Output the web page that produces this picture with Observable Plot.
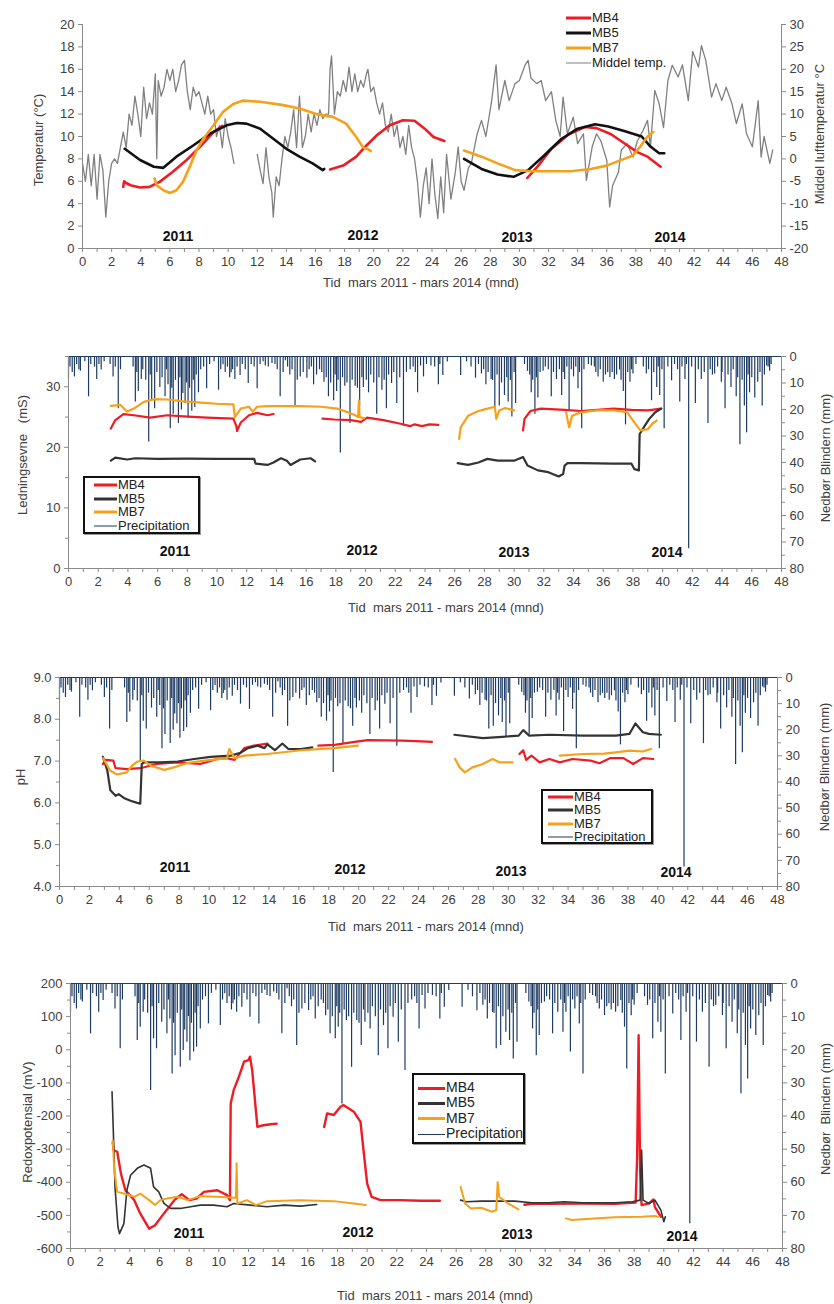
<!DOCTYPE html>
<html><head><meta charset="utf-8">
<script src="https://cdn.jsdelivr.net/npm/d3@7"></script>
<script src="https://cdn.jsdelivr.net/npm/@observablehq/plot@0.6"></script>
<style>
body{margin:0;background:#fff;font-family:"Liberation Sans",Arial,sans-serif;}
#root{position:relative;width:834px;height:1304px;overflow:hidden;background:#fff;}
.t{position:absolute;white-space:nowrap;color:#404040;font-size:13px;line-height:1;}
.yr{position:absolute;white-space:nowrap;color:#111;font-size:14px;font-weight:bold;transform:translate(-50%,-50%);}
.rot{position:absolute;white-space:nowrap;color:#404040;font-size:13px;line-height:1;transform:translate(-50%,-50%) rotate(-90deg);}
.lg{position:absolute;background:#fff;}
.lg .row{position:absolute;left:0;white-space:nowrap;font-size:13px;color:#222;line-height:1;}
.lg .sw{display:inline-block;vertical-align:middle;margin-right:1px;}
svg{overflow:visible;}
</style></head>
<body><div id="root"></div>
<script>
// ---------------- DATA ----------------
const xTicks = [0,2,4,6,8,10,12,14,16,18,20,22,24,26,28,30,32,34,36,38,40,42,44,46,48];
const xMinorTicks = [1,3,5,7,9,11,13,15,17,19,21,23,25,27,29,31,33,35,37,39,41,43,45,47];
const years = ["2011","2012","2013","2014"];
const seriesNames = ["MB4","MB5","MB7"];

// Panel 1: water temperature (°C, left axis) and mean air temperature (°C, right axis)
const tempTicks = [0,2,4,6,8,10,12,14,16,18,20];
const airTicks = [-20,-15,-10,-5,0,5,10,15,20,25,30];
const airTemp = [[0.0,-1],[0.2,-5],[0.4,1],[0.6,-6],[0.8,1],[1.0,-9],[1.2,1],[1.4,-2.5],[1.6,-13],[1.8,-5],[2.0,-1],[2.2,0],[2.4,-1],[2.6,2.5],[2.8,6],[3.0,2.5],[3.2,10],[3.4,7.5],[3.6,14],[3.8,10],[4.0,5],[4.2,16],[4.4,9],[4.6,12.5],[4.8,10],[5.0,19],[5.1,0],[5.2,17.5],[5.4,14],[5.6,16],[5.8,20],[6.0,17.5],[6.2,20],[6.4,15],[6.6,17.5],[6.8,21],[7.0,22],[7.2,15],[7.4,11],[7.6,16],[7.8,14],[8.0,15],[8.2,12.5],[8.4,10],[8.6,14],[8.8,10],[9.0,11],[9.2,5],[9.4,7.5],[9.6,2.5],[9.8,9],[10.0,5],[10.2,2.5],[10.4,-1],[11.2,null],[12.0,1],[12.2,-2.5],[12.4,-5.5],[12.6,2.5],[12.8,-4],[13.0,-7.5],[13.1,-13],[13.3,-4],[13.5,-6],[13.7,0],[13.9,5],[14.1,2.5],[14.3,6],[14.5,11],[14.7,2.5],[14.9,14],[15.1,2.5],[15.3,5],[15.5,10],[15.7,6],[15.9,10],[16.1,7.5],[16.3,11],[16.5,9],[16.7,10],[16.9,10],[17.0,20],[17.1,23],[17.3,10],[17.5,15],[17.7,14],[17.9,17.5],[18.1,15],[18.3,20.5],[18.5,15],[18.7,19],[18.9,15],[19.1,17.5],[19.3,16],[19.5,19],[19.6,20],[19.8,15],[20.0,16],[20.2,12.5],[20.4,10],[20.6,12.5],[20.8,7.5],[21.0,6],[21.2,10],[21.4,5],[21.6,7.5],[21.8,2.5],[22.0,5],[22.2,1],[22.4,7.5],[22.6,2.5],[22.8,0],[23.0,-5],[23.2,-13],[23.4,-6],[23.6,-2],[23.8,-10],[24.0,0],[24.2,-8],[24.4,-13.3],[24.6,-4],[24.8,-12],[25.0,1],[25.3,-9],[25.6,-3],[25.8,2.7],[26.0,-5],[26.2,-7],[26.5,-2],[26.7,-1],[27.1,5.6],[27.4,8.6],[27.7,5],[28.1,13],[28.4,21],[28.6,11],[29.0,17.5],[29.3,13],[29.7,16.8],[30.0,17.5],[30.4,21],[30.6,22],[30.8,18],[31.2,16.8],[31.5,17.5],[31.8,13],[32.2,15],[32.5,8.6],[32.8,5],[33.0,13.8],[33.3,5.6],[33.7,9.3],[34.0,3.4],[34.4,5.6],[34.6,-4.8],[35.0,2.7],[35.3,5.6],[35.6,4],[36.0,-0.3],[36.2,-10.7],[36.4,-6],[36.8,-3],[37.0,2],[37.4,3.4],[37.8,0.4],[38.1,4],[38.5,6.4],[38.8,8.6],[39.0,2.7],[39.3,15.3],[39.6,12.3],[39.9,7],[40.2,17.5],[40.5,20.9],[40.9,18.3],[41.2,21],[41.6,13],[41.9,24],[42.3,20.5],[42.5,25.3],[42.8,22],[43.2,13.8],[43.5,16.8],[43.9,13],[44.2,16],[44.6,12.3],[44.9,7.9],[45.3,12.3],[45.6,5.6],[46.0,2.7],[46.4,13],[46.6,0.4],[46.8,5],[47.2,-1],[47.4,2]];
const tempMB4 = [[2.8,5.5],[2.85,6.0],[3.0,5.85],[3.3,5.65],[3.95,5.45],[4.6,5.5],[5.3,5.95],[6.2,6.85],[7.15,7.9],[8.05,9.05],[9.0,10.4],[9.6,10.95],[9.7,null],[17.0,7.05],[17.9,7.4],[18.8,8.2],[19.5,9.2],[20.2,10.1],[21.1,11.0],[22.0,11.45],[22.8,11.4],[23.5,10.7],[24.1,9.95],[24.85,9.6],[25,null],[30.55,6.3],[30.65,6.45],[31.3,7.4],[32.2,8.9],[33.4,10.2],[34.5,10.85],[35.3,10.75],[36.3,10.2],[37.2,9.4],[38.1,8.6],[38.8,8.2],[39.7,7.3]];
const tempMB5 = [[2.9,8.9],[3.95,7.9],[4.9,7.3],[5.55,7.2],[6.45,8.2],[7.6,9.2],[8.75,10.25],[9.9,11.0],[10.6,11.2],[11.25,11.15],[12.2,10.7],[13.1,9.8],[14.0,8.9],[14.9,8.2],[15.8,7.6],[16.5,7.0],[16.6,7.1],[17,null],[26.2,8.0],[27.4,7.1],[28.5,6.6],[29.6,6.4],[30.6,7.0],[31.7,8.3],[32.9,9.8],[34.0,10.7],[35.2,11.1],[36.1,10.9],[37.2,10.5],[38.4,10.0],[39.0,9.1],[39.6,8.5],[39.95,8.5]];
const tempMB7 = [[4.95,6.25],[5.1,5.65],[5.55,5.2],[6.0,4.95],[6.45,5.2],[6.9,5.95],[7.4,7.4],[7.85,8.8],[8.3,9.8],[9.0,11.0],[9.65,12.2],[10.35,12.9],[11.0,13.2],[12.2,13.1],[13.8,12.8],[14.9,12.5],[16.05,12.0],[17.2,11.75],[18.1,11.15],[18.8,9.95],[19.25,9.05],[19.7,8.8],[19.8,8.7],[20,null],[26.2,8.75],[27.4,8.2],[28.5,7.6],[29.7,7.0],[30.8,6.9],[31.9,6.9],[33.5,6.9],[34.9,7.1],[36.0,7.4],[37.2,8.0],[37.8,8.3],[38.3,9.1],[38.8,10.0],[39.2,10.4]];

// Daily precipitation Blindern (mm), shared by panels 2-4
const precipTicks = [0,10,20,30,40,50,60,70,80];
const precipMinorTicks = [5,15,25,35,45,55,65,75];
const precip = [[0.0,8.7],[0.1,4],[0.25,6],[0.4,7.7],[0.55,3],[0.7,5],[0.8,5.6],[1.1,2],[1.35,15.2],[1.5,3],[1.75,4],[1.9,8.7],[2.05,3],[2.2,5.1],[2.4,2],[2.8,3],[3.0,7.7],[3.15,4],[3.35,19.7],[3.5,5],[4.35,4],[4.5,17.2],[4.6,6],[4.7,13.2],[4.9,8.7],[5.0,5],[5.2,9],[5.4,32.3],[5.5,7],[5.6,16.7],[5.8,19.7],[5.95,6],[6.15,11.7],[6.3,8],[6.5,15.2],[6.6,5],[6.7,10.7],[6.85,27.3],[6.95,12],[7.05,21.8],[7.2,9],[7.4,25.3],[7.5,8],[7.6,20.2],[7.7,14],[7.85,17.7],[7.95,10],[8.05,23.3],[8.15,12],[8.3,20.7],[8.4,9],[8.5,19.2],[8.6,7],[8.75,13.7],[8.9,5],[9.1,4],[9.3,12.2],[9.5,3],[9.8,2],[10.1,12.7],[10.25,5],[10.4,3.1],[10.55,6],[10.7,4],[10.85,8],[10.95,6.1],[11.05,5],[11.2,8.7],[11.35,4],[11.55,7.2],[11.7,3],[11.9,5],[12.1,10.2],[12.3,3],[12.5,4],[12.7,12.2],[12.9,3],[13.1,2],[13.25,3.6],[13.45,4],[13.7,2.6],[13.9,3],[14.05,5],[14.25,15.2],[14.45,6],[14.6,1.6],[14.75,4],[14.9,7],[15.05,5],[15.25,18.7],[15.4,9],[15.6,7.7],[15.8,6],[16.05,8.2],[16.2,5],[16.35,4],[16.5,10.7],[16.7,7],[16.9,5],[17.05,6],[17.2,9.7],[17.35,8],[17.5,15.2],[17.65,10],[17.85,16.7],[17.95,7],[18.05,13.2],[18.15,9],[18.3,36.4],[18.45,8],[18.6,11.2],[18.75,10],[18.95,25.3],[19.1,9],[19.3,11.2],[19.45,12],[19.6,18.7],[19.75,8],[19.85,11.7],[20.05,9],[20.2,13.7],[20.35,7],[20.55,10],[20.75,21.8],[20.9,8],[21.1,12.7],[21.25,9],[21.4,19.7],[21.55,7],[21.75,10.2],[21.9,6],[22.1,17.7],[22.3,8],[22.55,26.3],[22.75,6],[23.0,5],[23.2,4],[23.35,6],[23.5,13.7],[23.7,3.6],[23.9,7.7],[24.1,3],[24.4,3.6],[24.65,4],[24.9,10.7],[25.0,3],[25.2,7.2],[25.5,2.1],[26.4,7.2],[26.8,2],[27.1,4],[27.4,8.2],[27.6,3],[27.8,6.6],[27.95,5],[28.1,10.7],[28.25,6],[28.45,8.7],[28.55,9],[28.7,19.7],[28.85,7],[29.0,18.7],[29.15,10],[29.35,14.7],[29.5,8],[29.6,17.2],[29.75,9],[29.85,22.8],[30.0,6],[30.1,17.7],[30.7,3],[30.9,5.6],[31.05,7],[31.15,13.7],[31.25,9],[31.4,21.8],[31.5,8],[31.6,15.7],[31.75,6],[31.95,5.6],[32.1,4],[32.3,5],[32.5,15.2],[32.65,6],[32.85,8.7],[33.05,5],[33.2,14.7],[33.3,6],[33.4,8.7],[33.55,4],[33.7,20.7],[33.85,5],[34.0,7.7],[34.15,4],[34.3,12.2],[34.4,6],[34.55,27.3],[34.7,5],[35.0,3],[35.2,3.6],[35.4,4],[35.5,6],[35.65,7.7],[35.8,5],[36.0,9.7],[36.15,7],[36.3,6.1],[36.45,8],[36.6,6],[36.75,8.7],[36.9,7],[37.1,5.1],[37.2,9],[37.35,13.2],[37.5,25.8],[37.65,6],[37.8,9.7],[37.9,5],[38.0,6.6],[38.2,3],[38.7,4],[38.9,6.6],[39.05,5],[39.25,16.7],[39.4,6],[39.6,11.7],[39.7,4],[39.8,14.7],[39.95,5],[40.1,27.3],[40.35,4],[40.6,9.2],[40.8,3],[41.0,5],[41.15,17.2],[41.3,4],[41.5,8.7],[41.6,3],[41.75,72.5],[41.95,4],[42.2,17.7],[42.4,5],[42.6,8.7],[42.8,6],[43.05,25.3],[43.2,5],[43.35,7],[43.5,6.6],[43.7,4],[43.95,9.7],[44.0,6],[44.2,19.7],[44.4,7],[44.6,11.7],[44.75,5],[44.95,15.2],[45.05,8],[45.2,33.3],[45.35,9],[45.5,18.7],[45.65,28.8],[45.75,7],[45.85,13.7],[46.0,8],[46.2,15.7],[46.4,9.7],[46.55,6],[46.7,18.7],[46.85,7],[47.0,3.6],[47.1,4],[47.2,5.6],[47.3,3]];

// Panel 2: conductivity (mS)
const condTicks = [0,10,20,30];
const condMinorTicks = [5,15,25,35];
const condMB4 = [[2.85,23.1],[3.15,24.5],[3.7,25.5],[4.4,25.3],[5.5,24.9],[6.65,25.3],[7.75,25.1],[9.3,24.9],[11.1,24.75],[11.3,23.5],[11.35,22.7],[11.45,23.3],[11.6,24.1],[12.15,25.3],[12.7,25.7],[13.4,25.3],[13.8,25.5],[14,null],[17.1,24.75],[17.9,24.6],[19.0,24.5],[19.7,24.2],[20.1,24.9],[21.2,24.5],[22.35,23.9],[23.0,23.5],[23.3,23.8],[23.8,23.5],[24.3,23.8],[24.9,23.7],[25,null],[30.6,22.8],[30.7,24.7],[31.1,26.0],[31.8,26.4],[33.4,26.2],[34.5,26.0],[35.6,26.2],[36.7,26.4],[37.9,26.2],[39.0,26.1],[39.9,26.4]];
const condMB5 = [[2.85,17.8],[3.15,18.3],[3.95,18.0],[4.5,18.2],[6.0,18.1],[8.0,18.15],[10.0,18.1],[12.5,18.1],[12.6,17.3],[13.4,17.1],[13.8,17.5],[14.3,18.2],[14.7,17.8],[14.95,17.1],[15.6,18.0],[16.3,18.2],[16.6,17.7],[17,null],[26.2,17.4],[26.9,17.1],[27.6,17.5],[28.2,18.1],[28.9,17.8],[30.0,17.8],[30.6,18.4],[30.9,17.0],[31.6,16.2],[32.3,15.9],[33.0,15.2],[33.3,15.6],[33.4,17.0],[33.6,17.4],[34.5,17.4],[36.7,17.3],[37.9,17.3],[38.1,16.4],[38.4,16.2],[38.45,22.2],[38.8,23.6],[39.1,24.7],[39.5,25.8],[39.9,26.4]];
const condMB7 = [[2.85,26.85],[3.5,27.0],[3.95,25.9],[4.4,26.4],[5.07,27.5],[5.75,27.95],[6.65,27.9],[7.75,27.6],[8.9,27.4],[10.0,27.2],[11.1,27.1],[11.2,25.0],[11.6,26.4],[12.15,26.7],[12.4,25.9],[12.7,26.7],[13.4,26.8],[15.6,26.8],[17.0,26.7],[18.1,26.4],[18.75,25.85],[19.3,25.3],[19.5,25.0],[19.55,27.7],[19.6,25.0],[19.9,24.8],[20,null],[26.3,21.4],[26.4,23.3],[26.9,25.2],[27.6,26.0],[28.2,26.4],[28.7,26.7],[28.8,24.7],[29.0,26.1],[29.4,26.5],[30.0,26.1],[30.1,null],[33.5,25.8],[33.7,23.3],[33.9,25.2],[34.5,25.8],[35.6,26.1],[36.7,26.1],[37.6,25.8],[38.1,24.1],[38.5,22.8],[39.0,23.0],[39.3,23.9],[39.6,24.4]];

// Panel 3: pH
const phTicks = [4,5,6,7,8,9];
const phMinorTicks = [4.5,5.5,6.5,7.5,8.5];
const phMB4 = [[2.9,6.93],[3.1,7.03],[3.6,7.01],[3.75,6.83],[4.5,6.81],[5.4,6.83],[6.5,6.93],[7.9,6.97],[9.4,6.93],[10.55,7.05],[11.2,7.07],[11.7,7.03],[12.35,7.31],[13.0,7.37],[13.9,7.42],[14,null],[17.3,7.37],[18.4,7.39],[19.5,7.45],[20.6,7.5],[22.9,7.49],[24.2,7.47],[24.9,7.46],[25,null],[30.75,7.17],[31.0,7.26],[31.2,7.03],[31.55,7.13],[32.1,6.97],[32.75,7.05],[33.45,6.97],[34.3,7.05],[35.5,7.01],[36.1,6.95],[36.8,7.07],[37.7,7.07],[38.35,6.93],[39.0,7.07],[39.7,7.05]];
const phMB5 = [[2.9,7.1],[3.2,6.77],[3.4,6.3],[3.75,6.17],[3.96,6.21],[4.3,6.12],[4.75,6.05],[5.2,6.0],[5.4,5.98],[5.5,6.93],[5.64,6.97],[6.75,6.97],[7.9,6.99],[9.0,7.05],[10.1,7.1],[11.45,7.13],[12.1,7.2],[12.6,7.31],[13.25,7.37],[13.7,7.31],[13.9,7.4],[14.4,7.26],[14.9,7.42],[15.3,7.29],[16.15,7.29],[16.9,7.33],[17,null],[26.4,7.63],[28.3,7.55],[29.6,7.58],[30.7,7.61],[31.0,7.74],[31.4,7.61],[32.75,7.63],[35.0,7.61],[37.2,7.61],[38.1,7.65],[38.5,7.9],[39.0,7.69],[39.4,7.65],[40.2,7.63]];
const phMB7 = [[2.9,7.07],[3.4,6.77],[3.85,6.68],[4.5,6.73],[4.85,6.89],[5.2,6.99],[5.64,7.01],[6.1,6.89],[7.0,6.79],[7.65,6.85],[8.5,6.95],[9.7,7.01],[11.2,7.07],[11.35,7.29],[11.7,7.07],[12.35,7.13],[13.9,7.17],[16.15,7.26],[18.4,7.31],[19.95,7.37],[20,null],[26.45,7.05],[26.75,6.85],[27.1,6.73],[27.6,6.85],[28.3,6.93],[28.95,7.05],[29.4,6.97],[30.3,6.97],[30.4,null],[33.45,7.13],[35.0,7.17],[36.4,7.18],[37.2,7.21],[38.1,7.25],[39.0,7.23],[39.55,7.29]];

// Panel 4: redox potential (mV)
const redoxTicks = [-600,-500,-400,-300,-200,-100,0,100,200];
const redoxMinorTicks = [-550,-450,-350,-250,-150,-50,50,150];
const redoxMB4 = [[2.85,-280],[2.9,-303],[3.15,-308],[3.4,-374],[3.7,-424],[4.3,-454],[4.7,-494],[5.3,-540],[5.7,-530],[6.3,-494],[7.0,-454],[7.5,-436],[8.0,-454],[8.5,-449],[9.0,-429],[9.9,-424],[10.55,-439],[10.75,-454],[10.8,-162],[11.0,-122],[11.35,-82],[11.7,-36],[12.0,-31],[12.1,-21],[12.25,-62],[12.6,-233],[13.0,-228],[13.5,-225],[13.9,-223],[14,null],[17.1,-233],[17.3,-192],[17.75,-197],[18.2,-172],[18.4,-167],[19.1,-187],[19.55,-218],[19.8,-323],[20.0,-404],[20.3,-444],[20.9,-454],[22.25,-454],[23.6,-456],[24.9,-456],[25,null],[30.6,-468],[31.1,-465],[32.2,-465],[34.5,-464],[36.7,-465],[38.1,-461],[38.2,-323],[38.3,44],[38.4,-363],[38.5,-469],[39.0,-464],[39.3,-452],[39.4,-475],[39.8,-504]];
const redoxMB5 = [[2.8,-127],[2.9,-263],[3.0,-414],[3.2,-535],[3.3,-555],[3.6,-525],[3.8,-424],[4.05,-379],[4.5,-358],[4.95,-348],[5.4,-358],[5.6,-414],[5.95,-429],[6.3,-464],[6.75,-479],[7.4,-479],[8.1,-474],[8.75,-469],[9.65,-469],[10.55,-474],[11.0,-464],[12.1,-469],[13.25,-474],[14.4,-469],[15.5,-472],[16.6,-467],[17,null],[26.3,-454],[26.7,-459],[27.7,-457],[29.95,-457],[31.1,-462],[32.2,-462],[33.3,-459],[34.5,-462],[36.7,-462],[37.9,-459],[38.4,-454],[38.5,-303],[38.6,-454],[39.0,-464],[39.4,-454],[39.8,-484],[40.0,-519],[40.1,-504]];
const redoxMB7 = [[2.85,-273],[2.95,-364],[3.15,-429],[3.6,-434],[4.3,-444],[4.7,-434],[5.3,-454],[5.7,-469],[6.05,-454],[6.5,-449],[7.2,-444],[7.9,-454],[8.75,-442],[9.9,-444],[11.0,-447],[11.15,-447],[11.2,-343],[11.25,-464],[11.9,-454],[12.5,-469],[13.25,-457],[15.5,-454],[17.75,-457],[19.1,-464],[19.9,-469],[20,null],[26.3,-414],[26.6,-464],[27.0,-479],[27.7,-477],[28.4,-489],[28.7,-484],[28.8,-399],[28.9,-444],[29.5,-464],[30.2,-482],[30.3,null],[33.4,-509],[33.8,-514],[34.5,-512],[36.7,-506],[38.5,-504],[39.4,-502],[39.6,-504]];

// ---------------- STYLE ----------------
const C = {red:"#ee1c24", black:"#111111", dark:"#333333", orange:"#f6a11a", gray:"#808080", navy:"#1d3b63", axis:"#8a8a8a", text:"#404040"};
const root = document.getElementById("root");
const yv = d => d[1] == null ? NaN : d[1];

function axesMarks(cfg){
  const ax = {stroke:C.axis, fill:C.text, color:C.text, fontSize:13, tickSize:4, tickPadding:4, label:null, fontFamily:"Liberation Sans, Arial, sans-serif"};
  const m = [
    Plot.ruleX([0], {stroke:C.axis}),
    Plot.ruleX([48], {stroke:C.axis}),
    Plot.ruleY([cfg.y0], {stroke:C.axis}),
    Plot.axisX(xTicks, {...ax, anchor:"bottom", tickFormat: d => String(d)}),
    Plot.axisX(xMinorTicks, {...ax, anchor:"bottom", tickFormat: () => ""}),
    Plot.axisY(cfg.leftTicks, {...ax, anchor:"left", tickFormat: cfg.leftFmt}),
    Plot.axisY(cfg.rightTicks.map(cfg.toLeft), {...ax, anchor:"right", tickFormat: cfg.rightFmt})
  ];
  if (cfg.leftMinor) m.push(Plot.axisY(cfg.leftMinor, {...ax, anchor:"left", tickSize:3, tickFormat: () => ""}));
  if (cfg.rightMinor) m.push(Plot.axisY(cfg.rightMinor.map(cfg.toLeft), {...ax, anchor:"right", tickSize:3, tickFormat: () => ""}));
  return m;
}

function panel(cfg, marks){
  const chart = Plot.plot({
    width: 834, height: cfg.height,
    marginLeft: cfg.mL, marginRight: cfg.mR, marginTop: cfg.mT, marginBottom: cfg.mB,
    x: {domain:[0,48], axis:null},
    y: {domain: cfg.yDomain, axis:null},
    style: {background:"transparent", fontFamily:"Liberation Sans, Arial, sans-serif", fontSize:"13px", color:C.text, overflow:"visible"},
    marks: [...marks, ...axesMarks(cfg)]
  });
  chart.style.position = "absolute";
  chart.style.left = "0px";
  chart.style.top = cfg.top + "px";
  root.appendChild(chart);
}

function precipMarks(top, toLeft){
  return [
    Plot.ruleX(precip, {x: d => d[0], y1: () => top, y2: d => toLeft(d[1]), stroke:C.navy, strokeWidth:1.2}),
    Plot.ruleY([top], {stroke:C.navy, strokeWidth:1.2})
  ];
}
function seriesLine(data, stroke, w){
  return Plot.line(data, {x: d => d[0], y: yv, stroke, strokeWidth: w, strokeLinejoin:"round"});
}

// Panel 1
const airToLeft = c => (c + 20) / 2.5;
panel({top:0, height:275, mL:82, mR:53, mT:24, mB:27, yDomain:[0,20], y0:0,
  leftTicks: tempTicks, leftFmt: d => String(d),
  rightTicks: airTicks, toLeft: airToLeft, rightFmt: d => String(Math.round(d*2.5 - 20))},
  [
    Plot.line(airTemp, {x: d => d[0], y: d => d[1] == null ? NaN : airToLeft(d[1]), stroke:C.gray, strokeWidth:1.3}),
    seriesLine(tempMB4, C.red, 2.6),
    seriesLine(tempMB5, C.black, 2.6),
    seriesLine(tempMB7, C.orange, 2.6)
  ]);

// Panel 2
const p2 = p => 35 - p * 35 / 80;
panel({top:330, height:260, mL:68, mR:53, mT:26, mB:22, yDomain:[0,35], y0:0,
  leftTicks: condTicks, leftMinor: condMinorTicks, leftFmt: d => String(d),
  rightTicks: precipTicks, rightMinor: precipMinorTicks, toLeft: p2, rightFmt: d => String(Math.round((35 - d) * 80 / 35))},
  [
    ...precipMarks(35, p2),
    seriesLine(condMB4, C.red, 2.2),
    seriesLine(condMB5, C.dark, 2.2),
    seriesLine(condMB7, C.orange, 2.2)
  ]);

// Panel 3
const p3 = p => 9 - p * 5 / 80;
panel({top:650, height:260, mL:59, mR:57, mT:27, mB:24, yDomain:[4,9], y0:4,
  leftTicks: phTicks, leftMinor: phMinorTicks, leftFmt: d => d.toFixed(1),
  rightTicks: precipTicks, rightMinor: precipMinorTicks, toLeft: p3, rightFmt: d => String(Math.round((9 - d) * 16))},
  [
    ...precipMarks(9, p3),
    seriesLine(phMB4, C.red, 2.2),
    seriesLine(phMB5, C.dark, 2.2),
    seriesLine(phMB7, C.orange, 2.2)
  ]);

// Panel 4
const p4 = p => 200 - p * 10;
panel({top:955, height:315, mL:70, mR:52, mT:28, mB:22, yDomain:[-600,200], y0:-600,
  leftTicks: redoxTicks, leftMinor: redoxMinorTicks, leftFmt: d => String(d),
  rightTicks: precipTicks, rightMinor: precipMinorTicks, toLeft: p4, rightFmt: d => String(Math.round((200 - d) / 10))},
  [
    ...precipMarks(200, p4),
    seriesLine(redoxMB4, C.red, 2.4),
    seriesLine(redoxMB5, C.dark, 1.6),
    seriesLine(redoxMB7, C.orange, 2.0)
  ]);

// ---------------- TEXT OVERLAYS ----------------
function addText(cls, txt, x, y, extra){
  const d = document.createElement("div");
  d.className = cls; d.textContent = txt;
  d.style.left = x + "px"; d.style.top = y + "px";
  if (extra) Object.assign(d.style, extra);
  root.appendChild(d);
  return d;
}
const xTitle = "Tid  mars 2011 - mars 2014 (mnd)";
[[421,282],[446,607],[426,926],[435,1295]].forEach(([x,y]) => addText("t", xTitle, x, y, {transform:"translate(-50%,-50%)", whiteSpace:"pre"}));

addText("rot", "Temperatur (°C)", 38, 140);
addText("rot", "Middel lufttemperatur °C", 819, 134);
addText("rot", "Ledningsevne   (mS)", 22, 455, {whiteSpace:"pre"});
addText("rot", "Nedbør Blindern (mm)", 825, 458);
addText("rot", "pH", 20, 777);
addText("rot", "Nedbør Blindern (mm)", 824, 767);
addText("rot", "Redoxpotensial (mV)", 27, 1122);
addText("rot", "Nedbør  Blindern (mm)", 825, 1109, {whiteSpace:"pre"});

const yearPos = [
  [[178,236],[363,235],[517,237],[670,237]],
  [[175,551],[362,550],[514,552],[667,552]],
  [[175,867],[350,869],[511,871],[676,872]],
  [[189,1233],[358,1232],[517,1234],[682,1236]]
];
yearPos.forEach(ps => ps.forEach(([x,y], i) => addText("yr", years[i], x, y)));

// ---------------- LEGENDS ----------------
const legendItems = [
  {name: seriesNames[0], color: C.red, w: 3},
  {name: seriesNames[1], color: C.black, w: 3},
  {name: seriesNames[2], color: C.orange, w: 3}
];
function legend(box, items, opt){
  const d = document.createElement("div");
  d.className = "lg";
  Object.assign(d.style, {left: box.x + "px", top: box.y + "px", width: box.w + "px", height: box.h + "px"});
  if (opt.boxed) Object.assign(d.style, {border:"2.5px solid #111", boxSizing:"border-box", boxShadow:"1px 1px 0 #999"});
  else d.style.background = "transparent";
  items.forEach((it, i) => {
    const r = document.createElement("div");
    r.className = "row";
    r.style.left = opt.sx + "px";
    r.style.top = (opt.r0 + i * opt.dr) + "px";
    r.style.transform = "translateY(-50%)";
    r.style.fontSize = opt.fs + "px";
    const s = document.createElement("span");
    s.className = "sw";
    Object.assign(s.style, {width: opt.sw + "px", height: "0px", borderTop: it.w + "px solid " + it.color});
    r.appendChild(s);
    r.appendChild(document.createTextNode(it.name));
    d.appendChild(r);
  });
  root.appendChild(d);
}
legend({x:560, y:8, w:160, h:64}, [...legendItems, {name:"Middel temp.", color:C.gray, w:1.5}],
  {boxed:false, sx:6, r0:9, dr:15, sw:25, fs:13});
const pLeg = [{name: seriesNames[0], color:C.red, w:3},{name: seriesNames[1], color:C.dark, w:3},{name: seriesNames[2], color:C.orange, w:3},{name:"Precipitation", color:C.navy, w:1.5}];
legend({x:83, y:476, w:117, h:58}, pLeg, {boxed:true, sx:9, r0:6, dr:13.7, sw:23, fs:13});
legend({x:541, y:789, w:112, h:55}, pLeg, {boxed:true, sx:5, r0:5, dr:13.4, sw:25, fs:13});
legend({x:412, y:1073, w:113, h:71}, pLeg, {boxed:true, sx:4, r0:12, dr:15.3, sw:27, fs:14});
</script></body></html>
